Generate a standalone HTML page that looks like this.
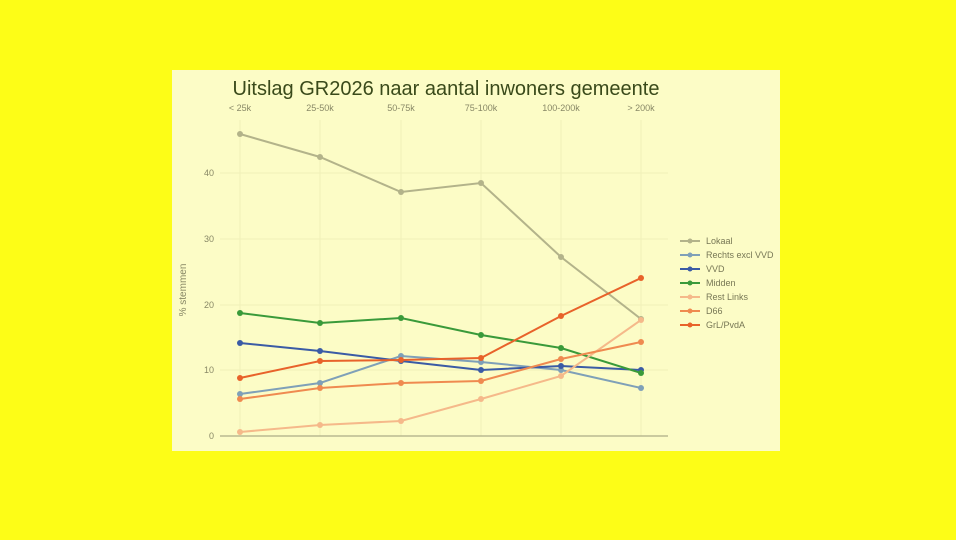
<!DOCTYPE html><html><head><style>body{margin:0;width:956px;height:540px;background:#fdfd17;overflow:hidden}svg{display:block;font-family:"Liberation Sans",sans-serif}</style></head><body>
<svg width="956" height="540">
<rect x="172" y="70" width="608" height="381" fill="#fcfcc6"/>
<text x="446" y="95" text-anchor="middle" font-size="20" fill="#3a4a1a">Uitslag GR2026 naar aantal inwoners gemeente</text>
<g stroke="#f0f0b8" stroke-width="1">
<line x1="240" y1="120" x2="240" y2="436"/><line x1="320" y1="120" x2="320" y2="436"/><line x1="401" y1="120" x2="401" y2="436"/><line x1="481" y1="120" x2="481" y2="436"/><line x1="561" y1="120" x2="561" y2="436"/><line x1="641" y1="120" x2="641" y2="436"/>
<line x1="220" y1="370" x2="668" y2="370"/><line x1="220" y1="305" x2="668" y2="305"/><line x1="220" y1="239" x2="668" y2="239"/><line x1="220" y1="173" x2="668" y2="173"/>
</g>
<line x1="220" y1="436" x2="668" y2="436" stroke="#999977" stroke-width="1"/>
<g font-size="9" fill="#888866" text-anchor="middle">
<text x="240" y="111">&lt; 25k</text><text x="320" y="111">25-50k</text><text x="401" y="111">50-75k</text><text x="481" y="111">75-100k</text><text x="561" y="111">100-200k</text><text x="641" y="111">&gt; 200k</text>
</g>
<g font-size="9" fill="#888866" text-anchor="end">
<text x="214" y="439">0</text><text x="214" y="373">10</text><text x="214" y="308">20</text><text x="214" y="242">30</text><text x="214" y="176">40</text>
</g>
<text transform="translate(186,290) rotate(-90)" font-size="10" fill="#888866" text-anchor="middle">% stemmen</text>
<g fill="none" stroke-width="2">
<polyline stroke="#b3b38a" points="240,134 320,157 401,192 481,183 561,257 641,319"/>
<polyline stroke="#7fa0b8" points="240,394 320,383 401,356 481,362 561,370 641,388"/>
<polyline stroke="#3b5ba5" points="240,343 320,351 401,361 481,370 561,366 641,370"/>
<polyline stroke="#3a9a3a" points="240,313 320,323 401,318 481,335 561,348 641,373"/>
<polyline stroke="#f5b98a" points="240,432 320,425 401,421 481,399 561,376 641,320"/>
<polyline stroke="#ef8a50" points="240,399 320,388 401,383 481,381 561,359 641,342"/>
<polyline stroke="#e8622a" points="240,378 320,361 401,360 481,358 561,316 641,278"/>
</g>
<g>
<g fill="#b3b38a"><circle cx="240" cy="134" r="3"/><circle cx="320" cy="157" r="3"/><circle cx="401" cy="192" r="3"/><circle cx="481" cy="183" r="3"/><circle cx="561" cy="257" r="3"/><circle cx="641" cy="319" r="3"/></g>
<g fill="#7fa0b8"><circle cx="240" cy="394" r="3"/><circle cx="320" cy="383" r="3"/><circle cx="401" cy="356" r="3"/><circle cx="481" cy="362" r="3"/><circle cx="561" cy="370" r="3"/><circle cx="641" cy="388" r="3"/></g>
<g fill="#3b5ba5"><circle cx="240" cy="343" r="3"/><circle cx="320" cy="351" r="3"/><circle cx="401" cy="361" r="3"/><circle cx="481" cy="370" r="3"/><circle cx="561" cy="366" r="3"/><circle cx="641" cy="370" r="3"/></g>
<g fill="#3a9a3a"><circle cx="240" cy="313" r="3"/><circle cx="320" cy="323" r="3"/><circle cx="401" cy="318" r="3"/><circle cx="481" cy="335" r="3"/><circle cx="561" cy="348" r="3"/><circle cx="641" cy="373" r="3"/></g>
<g fill="#f5b98a"><circle cx="240" cy="432" r="3"/><circle cx="320" cy="425" r="3"/><circle cx="401" cy="421" r="3"/><circle cx="481" cy="399" r="3"/><circle cx="561" cy="376" r="3"/><circle cx="641" cy="320" r="3"/></g>
<g fill="#ef8a50"><circle cx="240" cy="399" r="3"/><circle cx="320" cy="388" r="3"/><circle cx="401" cy="383" r="3"/><circle cx="481" cy="381" r="3"/><circle cx="561" cy="359" r="3"/><circle cx="641" cy="342" r="3"/></g>
<g fill="#e8622a"><circle cx="240" cy="378" r="3"/><circle cx="320" cy="361" r="3"/><circle cx="401" cy="360" r="3"/><circle cx="481" cy="358" r="3"/><circle cx="561" cy="316" r="3"/><circle cx="641" cy="278" r="3"/></g>
</g>
<g font-size="9" fill="#777755" stroke-width="2">
<line x1="680" y1="241" x2="700" y2="241" stroke="#b3b38a"/><circle cx="690" cy="241" r="2.5" fill="#b3b38a"/><text x="706" y="244">Lokaal</text>
<line x1="680" y1="255" x2="700" y2="255" stroke="#7fa0b8"/><circle cx="690" cy="255" r="2.5" fill="#7fa0b8"/><text x="706" y="258">Rechts excl VVD</text>
<line x1="680" y1="269" x2="700" y2="269" stroke="#3b5ba5"/><circle cx="690" cy="269" r="2.5" fill="#3b5ba5"/><text x="706" y="272">VVD</text>
<line x1="680" y1="283" x2="700" y2="283" stroke="#3a9a3a"/><circle cx="690" cy="283" r="2.5" fill="#3a9a3a"/><text x="706" y="286">Midden</text>
<line x1="680" y1="297" x2="700" y2="297" stroke="#f5b98a"/><circle cx="690" cy="297" r="2.5" fill="#f5b98a"/><text x="706" y="300">Rest Links</text>
<line x1="680" y1="311" x2="700" y2="311" stroke="#ef8a50"/><circle cx="690" cy="311" r="2.5" fill="#ef8a50"/><text x="706" y="314">D66</text>
<line x1="680" y1="325" x2="700" y2="325" stroke="#e8622a"/><circle cx="690" cy="325" r="2.5" fill="#e8622a"/><text x="706" y="328">GrL/PvdA</text>
</g>
</svg></body></html>
